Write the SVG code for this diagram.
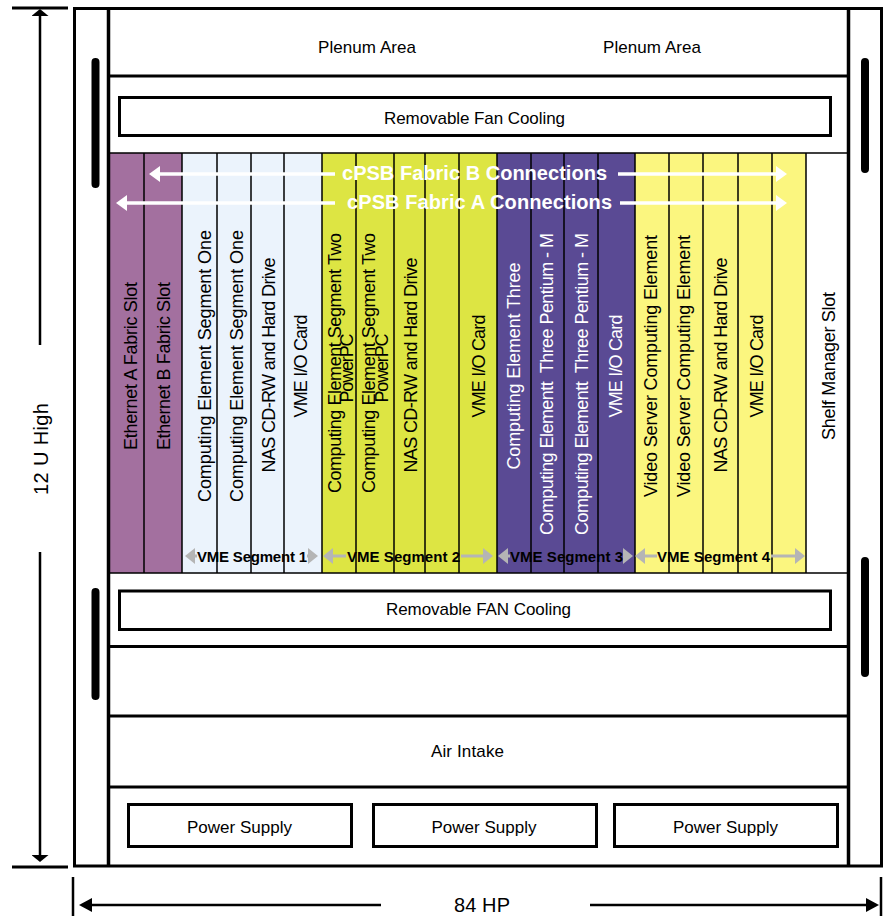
<svg xmlns="http://www.w3.org/2000/svg" width="889" height="916" viewBox="0 0 889 916">
<defs>
<style>
.t{font-family:"Liberation Sans",Arial,sans-serif;font-size:17px;fill:#000;text-anchor:middle}
.r{font-size:18px}
.w{fill:#fff}
.fab{font-family:"Liberation Sans",Arial,sans-serif;font-weight:bold;font-size:20px;fill:#fff;text-anchor:middle}
.seg{font-family:"Liberation Sans",Arial,sans-serif;font-weight:bold;font-size:15px;fill:#000;text-anchor:middle}
.dim{font-family:"Liberation Sans",Arial,sans-serif;font-size:20px;fill:#000;text-anchor:middle}
.box{fill:none;stroke:#000;stroke-width:3}
.hl{stroke:#000;stroke-width:3}
.thin{stroke:#000;stroke-width:1.5}
.div{stroke:#000;stroke-width:1.5}
.handle{stroke:#000;stroke-width:8;stroke-linecap:round}
.wl{stroke:#fff;stroke-width:3.5;fill:none}
.gl{stroke:#b5b5b5;stroke-width:3;fill:none}
.bl{stroke:#000;stroke-width:2.5;fill:none}
.pu{fill:#a3709f}.lb{fill:#ebf3fc}.li{fill:#dde543}.dp{fill:#5a4a94}.ly{fill:#fbf67f}
</style>
<marker id="mw" viewBox="0 0 11 16" refX="4" refY="8" markerWidth="11" markerHeight="16" markerUnits="userSpaceOnUse" orient="auto"><path d="M0,0 L11,8 L0,16 z" fill="#fff"/></marker>
<marker id="mg" viewBox="0 0 10 16" refX="4" refY="8" markerWidth="10" markerHeight="16" markerUnits="userSpaceOnUse" orient="auto"><path d="M0,0 L10,8 L0,16 z" fill="#b5b5b5"/></marker>
<marker id="mv" viewBox="0 0 7 17" refX="2" refY="8.5" markerWidth="7" markerHeight="17" markerUnits="userSpaceOnUse" orient="auto"><path d="M0,0 L7,8.5 L0,17 z" fill="#000"/></marker>
<marker id="mh" viewBox="0 0 13 14" refX="3" refY="7" markerWidth="13" markerHeight="14" markerUnits="userSpaceOnUse" orient="auto"><path d="M0,0 L13,7 L0,14 z" fill="#000"/></marker>
</defs>
<rect width="889" height="916" fill="#fff"/>

<g id="slots">
<g id="slot1"><rect class="pu" x="110" y="153" width="34" height="420"/><text class="t r" transform="translate(136.5,366) rotate(-90)" textLength="168">Ethernet A Fabric Slot</text></g>
<g id="slot2"><rect class="pu" x="144" y="153" width="38" height="420"/><text class="t r" transform="translate(170,366) rotate(-90)" textLength="168">Ethernet B Fabric Slot</text></g>
<g id="slot3"><rect class="lb" x="182" y="153" width="35" height="420"/><text class="t r" transform="translate(210.5,366) rotate(-90)" textLength="272">Computing Element Segment One</text></g>
<g id="slot4"><rect class="lb" x="217" y="153" width="34" height="420"/><text class="t r" transform="translate(242.5,366) rotate(-90)" textLength="272">Computing Element Segment One</text></g>
<g id="slot5"><rect class="lb" x="251" y="153" width="33" height="420"/><text class="t r" transform="translate(274.5,365) rotate(-90)" textLength="215">NAS CD-RW and Hard Drive</text></g>
<g id="slot6"><rect class="lb" x="284" y="153" width="38" height="420"/><text class="t r" transform="translate(307,366) rotate(-90)" textLength="103">VME I/O Card</text></g>
<g id="slot7"><rect class="li" x="322" y="153" width="34" height="420"/><text class="t r" transform="translate(340.5,363) rotate(-90)" textLength="260">Computing Element Segment Two</text><text class="t r" transform="translate(353,368) rotate(-90)" textLength="69">PowerPC</text></g>
<g id="slot8"><rect class="li" x="356" y="153" width="38" height="420"/><text class="t r" transform="translate(374.5,363) rotate(-90)" textLength="260">Computing Element Segment Two</text><text class="t r" transform="translate(388,368) rotate(-90)" textLength="69">PowerPC</text></g>
<g id="slot9"><rect class="li" x="394" y="153" width="31" height="420"/><text class="t r" transform="translate(416.5,365) rotate(-90)" textLength="215">NAS CD-RW and Hard Drive</text></g>
<g id="slot10"><rect class="li" x="425" y="153" width="34" height="420"/></g>
<g id="slot11"><rect class="li" x="459" y="153" width="38" height="420"/><text class="t r" transform="translate(485,366) rotate(-90)" textLength="103">VME I/O Card</text></g>
<g id="slot12"><rect class="dp" x="497" y="153" width="34" height="420"/><text class="t r w" transform="translate(519.5,366) rotate(-90)" textLength="207">Computing Element Three</text></g>
<g id="slot13"><rect class="dp" x="531" y="153" width="33" height="420"/><text class="t r w" xml:space="preserve" transform="translate(552.5,384) rotate(-90)" textLength="302">Computing Elementt  Three Pentium - M</text></g>
<g id="slot14"><rect class="dp" x="564" y="153" width="34" height="420"/><text class="t r w" xml:space="preserve" transform="translate(587.5,384) rotate(-90)" textLength="302">Computing Elementt  Three Pentium - M</text></g>
<g id="slot15"><rect class="dp" x="598" y="153" width="37" height="420"/><text class="t r w" transform="translate(621.5,366) rotate(-90)" textLength="103">VME I/O Card</text></g>
<g id="slot16"><rect class="ly" x="635" y="153" width="34" height="420"/><text class="t r" transform="translate(656.5,366) rotate(-90)" textLength="262">Video Server Computing Element</text></g>
<g id="slot17"><rect class="ly" x="669" y="153" width="34" height="420"/><text class="t r" transform="translate(689.5,366) rotate(-90)" textLength="262">Video Server Computing Element</text></g>
<g id="slot18"><rect class="ly" x="703" y="153" width="35" height="420"/><text class="t r" transform="translate(726.5,365) rotate(-90)" textLength="215">NAS CD-RW and Hard Drive</text></g>
<g id="slot19"><rect class="ly" x="738" y="153" width="34" height="420"/><text class="t r" transform="translate(762.5,366) rotate(-90)" textLength="103">VME I/O Card</text></g>
<g id="slot20"><rect class="ly" x="772" y="153" width="34" height="420"/></g>
<g id="slot21"><rect fill="#fff" x="806" y="153" width="41" height="420"/><text class="t r" transform="translate(834.5,366) rotate(-90)" textLength="148">Shelf Manager Slot</text></g>
<g id="dividers">
<path class="div" d="M144,153V573M182,153V573M217,153V573M251,153V573M284,153V573M322,153V573M356,153V573M394,153V573M425,153V573M459,153V573M497,153V573M531,153V573M564,153V573M598,153V573M635,153V573M669,153V573M703,153V573M738,153V573M772,153V573M806,153V573"/>
<path class="thin" d="M108,153H848M108,573H848"/>
</g>
</g>

<g id="frame">
<rect x="74.5" y="8.5" width="807" height="857.5" fill="none" stroke="#000" stroke-width="3"/>
<path stroke="#000" stroke-width="3.5" d="M108.5,8V866M848.5,8V866"/>
<path class="hl" d="M108,76H848M108,646.5H848M108,716H848M108,787H848"/>
</g>

<g id="handles">
<path class="handle" d="M95.5,62V184M95.5,592V696M865,62V169M865,561V673"/>
</g>

<g id="plenum"><text class="t" x="367" y="53" textLength="98">Plenum Area</text><text class="t" x="652" y="53" textLength="98">Plenum Area</text></g>
<g id="fan-top"><rect class="box" x="119.5" y="97.5" width="711" height="38"/><text class="t" x="474.5" y="124" textLength="181">Removable Fan Cooling</text></g>
<g id="fan-bottom"><rect class="box" x="119.5" y="591" width="711" height="38.5"/><text class="t" x="478.5" y="615" textLength="185">Removable FAN Cooling</text></g>
<g id="air-intake"><text class="t" x="467.5" y="757" textLength="73">Air Intake</text></g>
<g id="psu1"><rect class="box" x="128.5" y="804.5" width="223" height="42"/><text class="t" x="239.5" y="833" textLength="105">Power Supply</text></g>
<g id="psu2"><rect class="box" x="373.5" y="804.5" width="223" height="42"/><text class="t" x="484" y="833" textLength="105">Power Supply</text></g>
<g id="psu3"><rect class="box" x="614.5" y="804.5" width="223" height="42"/><text class="t" x="725.5" y="833" textLength="105">Power Supply</text></g>

<g id="connectors">
<g id="fabric-b"><path class="wl" d="M335,174H156" marker-end="url(#mw)"/><path class="wl" d="M618,174H780" marker-end="url(#mw)"/><text class="fab" x="474.5" y="180" textLength="265">cPSB Fabric B Connections</text></g>
<g id="fabric-a"><path class="wl" d="M335,203H123" marker-end="url(#mw)"/><path class="wl" d="M620,203H780" marker-end="url(#mw)"/><text class="fab" x="479.5" y="209" textLength="265">cPSB Fabric A Connections</text></g>
<g id="vme-seg1"><path class="gl" d="M197,556H191" marker-end="url(#mg)"/><path class="gl" d="M307,556H312" marker-end="url(#mg)"/><text class="seg" x="252" y="561.5" textLength="110">VME Segment 1</text></g>
<g id="vme-seg2"><path class="gl" d="M346,556H329" marker-end="url(#mg)"/><path class="gl" d="M461,556H487" marker-end="url(#mg)"/><text class="seg" x="403.5" y="561.5" textLength="113">VME Segment 2</text></g>
<g id="vme-seg3"><path class="gl" d="M510,556H504" marker-end="url(#mg)"/><path class="gl" d="M623,556H627" marker-end="url(#mg)"/><text class="seg w" x="566.5" y="561.5" textLength="113">VME Segment 3</text></g>
<g id="vme-seg4"><path class="gl" d="M657,556H641" marker-end="url(#mg)"/><path class="gl" d="M771,556H799" marker-end="url(#mg)"/><text class="seg" x="713.5" y="561.5" textLength="113">VME Segment 4</text></g>
<g id="dim-height"><path class="hl" d="M12,8H68M12,867H68"/><path class="bl" d="M40,345V14" marker-end="url(#mv)"/><path class="bl" d="M40,552V857" marker-end="url(#mv)"/><text class="dim" transform="translate(47.5,449) rotate(-90)" textLength="92">12 U High</text></g>
<g id="dim-width"><path class="bl" d="M73,877V916M881,877V916"/><path class="bl" d="M381,905H89" marker-end="url(#mh)"/><path class="bl" d="M590,905H869" marker-end="url(#mh)"/><text class="dim" x="482" y="912" textLength="56">84 HP</text></g>
</g>
</svg>
